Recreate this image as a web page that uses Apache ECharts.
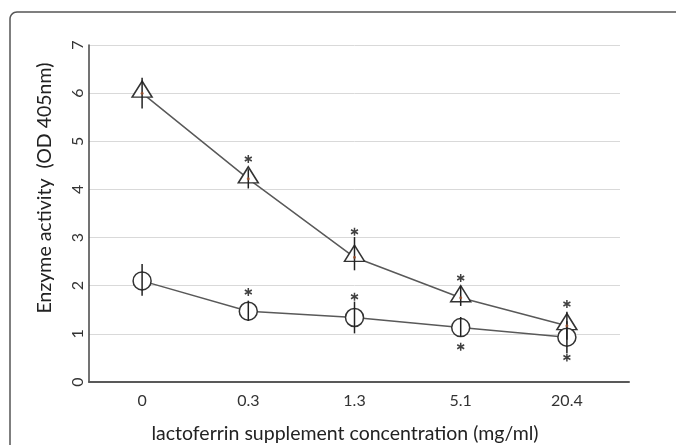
<!DOCTYPE html>
<html>
<head>
<meta charset="utf-8">
<script src="https://cdn.jsdelivr.net/npm/echarts@6/dist/echarts.min.js"></script>
<style>html,body{margin:0;padding:0;background:#fff}#c{width:676px;height:445px}</style>
</head>
<body>
<div id="c"></div>
<script>
const categories = ['0', '0.3', '1.3', '5.1', '20.4'];
const yTicks = [0, 1, 2, 3, 4, 5, 6, 7];
const triangleValues = [6.0, 4.22, 2.59, 1.75, 1.17];
const triangleErrUp = [0.32, 0.2, 0.42, 0.25, 0.29];
const triangleErrDown = [0.32, 0.2, 0.27, 0.17, 0.29];
const circleValues = [2.10, 1.47, 1.34, 1.13, 0.93];
const circleErrUp = [0.35, 0.22, 0.33, 0.22, 0.33];
const circleErrDown = [0.31, 0.2, 0.33, 0.19, 0.33];
const triangleStars = [null, 4.63, 3.12, 2.16, 1.62];
const circleStars = [null, 1.87, 1.77, 0.73, 0.51];
const yName = 'Enzyme activity  (OD 405nm)';
const xName = 'lactoferrin supplement concentration (mg/ml)';

const FONT = 'Lato, "Open Sans", sans-serif';
const chart = echarts.init(document.getElementById('c'), null, {renderer: 'canvas'});

const errData = [];
categories.forEach((c, i) => {
  errData.push([i, triangleValues[i] - triangleErrDown[i], triangleValues[i] + triangleErrUp[i]]);
  errData.push([i, circleValues[i] - circleErrDown[i], circleValues[i] + circleErrUp[i]]);
});
const starData = [];
categories.forEach((c, i) => {
  if (triangleStars[i] != null) starData.push([i, triangleStars[i]]);
  if (circleStars[i] != null) starData.push([i, circleStars[i]]);
});

// rounded top-left frame corner
const framePts = [[676, 12]];
const R = 7, cx = 10 + R, cy = 12 + R;
for (let k = 0; k <= 8; k++) {
  const a = -Math.PI / 2 - (Math.PI / 2) * (k / 8);
  framePts.push([cx + R * Math.cos(a), cy + R * Math.sin(a)]);
}
framePts.push([10, 445]);

const option = {
  animation: false,
  backgroundColor: '#fff',
  grid: [
    {left: 89, top: 45, width: 531, height: 337},
    {left: 89, top: 45, width: 540, height: 337}
  ],
  xAxis: [
    {type: 'category', gridIndex: 0, data: categories, boundaryGap: true,
     axisLine: {show: false}, axisTick: {show: false},
     axisLabel: {margin: 11, fontSize: 16, color: '#333', fontFamily: FONT},
     splitLine: {show: false}},
    {type: 'value', gridIndex: 1, min: 0, max: 1,
     axisLine: {show: true, lineStyle: {color: '#595959', width: 2}},
     axisTick: {show: false}, axisLabel: {show: false}, splitLine: {show: false}}
  ],
  yAxis: [
    {type: 'value', gridIndex: 0, min: 0, max: 7, interval: 1,
     axisLine: {show: true, lineStyle: {color: '#444', width: 1.5}},
     axisTick: {show: false},
     axisLabel: {rotate: 90, margin: 3, fontSize: 16, color: '#333', fontFamily: FONT,
                 formatter: v => yTicks.includes(v) ? String(v) : ''},
     splitLine: {lineStyle: {color: '#d9d9d9', width: 1}}},
    {type: 'value', gridIndex: 1, min: 0, max: 7, show: false}
  ],
  series: [
    {type: 'line', xAxisIndex: 0, yAxisIndex: 0, data: triangleValues,
     symbol: 'triangle', symbolSize: [20, 16], symbolOffset: [0, -4], showSymbol: true,
     lineStyle: {color: '#595959', width: 1.5},
     itemStyle: {color: '#fff', borderColor: '#333', borderWidth: 1.5}, z: 2},
    {type: 'line', xAxisIndex: 0, yAxisIndex: 0, data: circleValues,
     symbol: 'circle', symbolSize: 18, showSymbol: true,
     lineStyle: {color: '#595959', width: 1.5},
     itemStyle: {color: '#fff', borderColor: '#333', borderWidth: 1.5}, z: 2},
    {type: 'custom', xAxisIndex: 0, yAxisIndex: 0, data: errData, z: 4,
     renderItem: (params, api) => {
       const p1 = api.coord([api.value(0), api.value(1)]);
       const p2 = api.coord([api.value(0), api.value(2)]);
       return {type: 'line', shape: {x1: p1[0], y1: p1[1], x2: p2[0], y2: p2[1]},
               style: {stroke: '#222', lineWidth: 1.5}};
     }},
    {type: 'scatter', xAxisIndex: 0, yAxisIndex: 0, data: triangleValues.map((v, i) => [i, v]),
     symbol: 'circle', symbolSize: 3, itemStyle: {color: '#a0522d'}, z: 5},
    {type: 'scatter', xAxisIndex: 0, yAxisIndex: 0, data: starData,
     symbol: 'path://M5,0L5,10M0.67,2.5L9.33,7.5M0.67,7.5L9.33,2.5', symbolSize: [7, 8],
     itemStyle: {color: 'none', borderColor: '#111', borderWidth: 1.6}, z: 5}
  ],
  graphic: [
    {type: 'polyline', shape: {points: framePts},
     style: {fill: 'none', stroke: '#555', lineWidth: 1.5}},
    {type: 'text', x: 45, y: 188, rotation: Math.PI / 2,
     style: {text: yName, fontSize: 19.5, fontFamily: FONT, fill: '#222', align: 'center', verticalAlign: 'middle'}},
    {type: 'text', x: 345, y: 434,
     style: {text: xName, fontSize: 19.5, fontFamily: FONT, fill: '#222', align: 'center', verticalAlign: 'middle'}}
  ]
};
chart.setOption(option);
</script>
</body>
</html>
